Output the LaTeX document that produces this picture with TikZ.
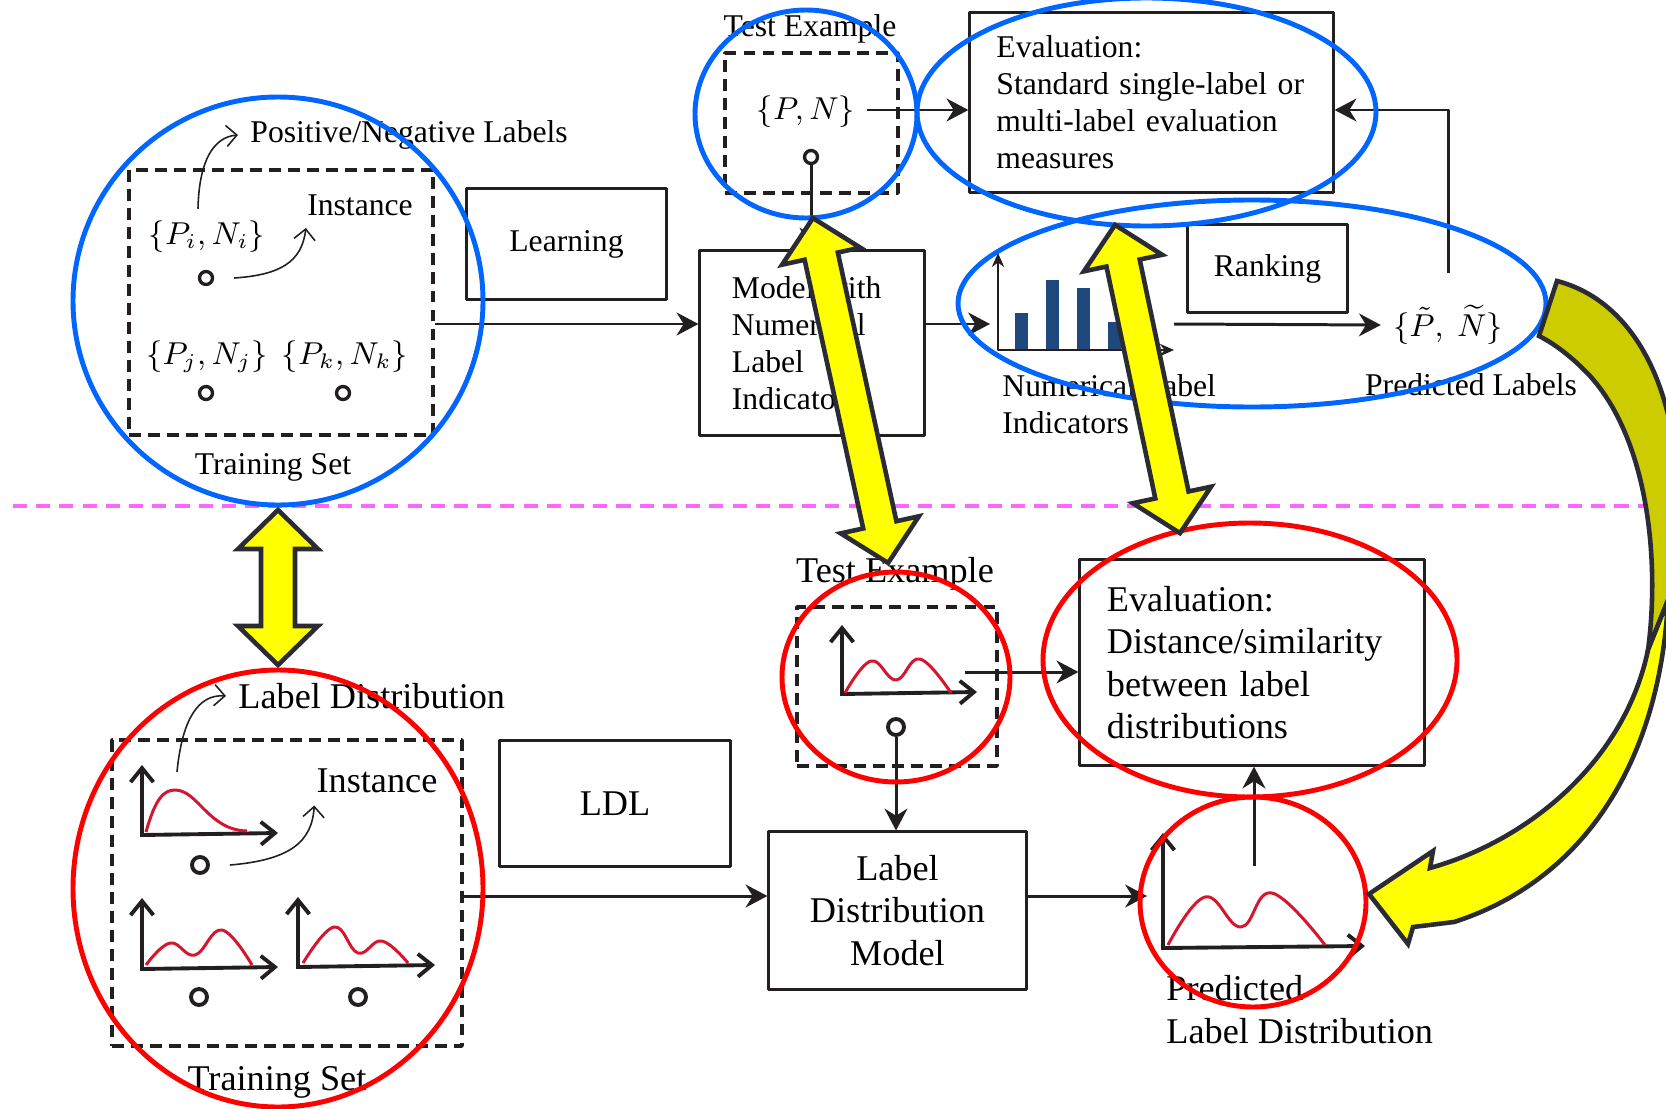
\documentclass[tikz,border=0pt]{standalone}
\usepackage{fontspec}
\setmainfont{Liberation Serif}
\usetikzlibrary{arrows.meta,calc}
\definecolor{ink}{RGB}{35,31,32}
\definecolor{ringblue}{RGB}{0,102,255}
\definecolor{ringred}{RGB}{255,0,0}
\definecolor{curvered}{RGB}{214,22,46}
\definecolor{barblue}{RGB}{31,73,125}
\definecolor{hlyellow}{RGB}{255,255,0}
\definecolor{hlolive}{RGB}{204,204,0}
\definecolor{hledge}{RGB}{43,43,54}
\definecolor{sepmag}{RGB}{255,102,255}
% yellow double arrow: centre, angle, half length
\newcommand{\hlarrow}[3]{%
	\begin{scope}[shift={#1},rotate=#2]
	\filldraw[hlfill] (-#3,0)--({-#3+39},40)--({-#3+39},17)--({#3-39},17)--({#3-39},40)--(#3,0)--({#3-39},-40)--({#3-39},-17)--({-#3+39},-17)--({-#3+39},-40)--cycle;
	\end{scope}}
\begin{document}
\begin{tikzpicture}[x=0.01cm, y=-0.01cm, line join=round, font=\fontsize{9}{10.5}\selectfont,
	box/.style={draw=ink, line width=0.85pt},
	dbox/.style={draw=ink, line width=0.95pt, dash pattern=on 3.4pt off 2pt},
	flow/.style={draw=ink, line width=0.85pt, -{Stealth[length=6.2pt,width=6.5pt,inset=2pt]}},
	hint/.style={draw=ink, line width=0.45pt, -{Straight Barb[length=3pt,width=6pt]}},
	ax/.style={draw=ink, line width=1.1pt, line join=miter, {Straight Barb[length=4pt,width=6.5pt]}-{Straight Barb[length=4pt,width=6.5pt]}},
	dcurve/.style={draw=curvered, line width=0.85pt},
	inst/.style={circle, draw=ink, line width=0.95pt, minimum size=0.13cm, inner sep=0pt},
	instB/.style={circle, draw=ink, line width=1.1pt, minimum size=0.16cm, inner sep=0pt},
	fbot/.style={font=\fontsize{10.3}{12.1}\selectfont},
	ring/.style={line width=1.4pt},
	hlfill/.style={fill=hlyellow, draw=hledge, line width=1.3pt, line join=miter}]
	\useasboundingbox (0,0) rectangle (1666,1109);
	% upper half
	\node[dbox, minimum width=3.04cm, minimum height=2.65cm] (trainA) at (281,302.5) {};
	\node (pniA) at (207,237) {$\{P_i, N_i\}$};
	\node[inst] (iA) at (206,278) {};
	\node (pnjA) at (207,357) {$\{P_j, N_j\}$};
	\node[inst] (jA) at (206,393) {};
	\node (pnkA) at (345,357) {$\{P_k, N_k\}$};
	\node[inst] (kA) at (343,393) {};
	\node[anchor=west] (plabA) at (238,135) {Positive/Negative Labels};
	\node (instA) at (360,205) {Instance};
	\node (tsA) at (273,467) {Training Set};
	\draw[hint] ([xshift=-0.09cm]pniA.north) .. controls (199,160) and (214,137) .. (plabA.west);
	\draw[hint] ([xshift=0.2cm]iA.east) .. controls (280,275) and (302,262) .. ([xshift=0.11cm]instA.south west);
	\node[box, minimum width=1.99cm, minimum height=1.10cm] (learn) at (566.5,244) {Learning};
	\node[box, align=left, text width=1.6cm, inner xsep=0.32cm, minimum height=1.84cm] (model) at (812,343) {Model with\\Numerical\\Label\\Indicators};
	\coordinate (rowA) at (0,324);
	\draw[flow] (trainA.east |- rowA) -- (model.west |- rowA);
	\node[dbox, minimum width=1.73cm, minimum height=1.40cm] (testA) at (811.5,123) {};
	\node (teA) at (810,29) {Test Example};
	\node (pnA) at (806,112) {$\{P, N\}$};
	\node[inst] (tA) at (811,157) {};
	\draw[flow] (tA.south) -- (tA.south |- model.north);
	\node[box, align=left, text width=3.1cm, inner xsep=0.265cm, minimum height=1.79cm] (evalA) at (1151.5,102.5) {Evaluation:\\Standard single-label or\\multi-label evaluation\\measures};
	\coordinate (rowE) at (0,110);
	\draw[flow] (pnA.east |- rowE) -- (evalA.west |- rowE);
	\foreach \bx/\by in {1015/313,1046/280,1077/288,1108/322}
		\fill[barblue] (\bx,\by) rectangle ({\bx+13},350);
	\coordinate (orgA) at (998,350);
	\draw[draw=ink, line width=0.6pt, {Stealth[length=4pt,width=3.5pt]}-{Stealth[length=4pt,width=3.5pt]}] (998,253) -- (orgA) -- (1174,350);
	\coordinate (chartL) at (990,324);
	\draw[flow] (model.east |- rowA) -- (chartL);
	\node[align=left, anchor=west] (numA) at (990,404) {Numerical Label\\Indicators};
	\node[box, minimum width=1.59cm, minimum height=0.87cm] (rank) at (1267.5,268.5) {Ranking};
	\node (ptn) at (1448,325) {$\{\tilde{P},\ \widetilde{N}\}$};
	\coordinate (chartR) at (1174,324);
	\draw[flow] (chartR) -- (ptn.west);
	\node (plA) at (1471,385) {Predicted Labels};
	\draw[flow] ([yshift=0.2cm]ptn.north) |- (evalA.east |- rowE);
	% lower half
	\node[dbox, minimum width=3.50cm, minimum height=3.06cm] (trainB) at (287,893) {};
	\draw[ax] (142,765) -- (142,835) -- (278,833);
	\draw[dcurve] (146,832) .. controls (155,800) and (163,790) .. (175,790) .. controls (198,790) and (208,830) .. (247,831);
	\draw[ax] (142,898) -- (142,969) -- (278,967);
	\draw[dcurve] plot[smooth, tension=0.7] coordinates {(146,965) (170,943) (195,955) (222,930) (252,965)};
	\draw[ax] (298,897) -- (298,967) -- (435,965);
	\draw[dcurve] plot[smooth, tension=0.7] coordinates {(303,963) (334,927) (358,953) (382,941) (408,963)};
	\node[instB] (iB) at (200,865) {};
	\node[instB] (jB) at (199,997) {};
	\node[instB] (kB) at (358,997) {};
	\node[fbot, anchor=west] (ldB) at (226,696) {Label Distribution};
	\node[fbot] (instB) at (377,781) {Instance};
	\node[fbot] (tsB) at (277,1082) {Training Set};
	\coordinate (pk1) at (177,772);
	\draw[hint] (pk1) .. controls (182,720) and (198,694) .. (ldB.west);
	\draw[hint] ([xshift=0.2cm]iB.east) .. controls (290,860) and (312,842) .. ([xshift=0.1cm]instB.south west);
	\node[box, fbot, minimum width=2.30cm, minimum height=1.25cm] (ldl) at (615,803.5) {LDL};
	\node[box, fbot, align=center, minimum width=2.57cm, minimum height=1.57cm] (ldm) at (897.5,910.5) {Label\\Distribution\\Model};
	\coordinate (rowB) at (0,896);
	\draw[flow] (trainB.east |- rowB) -- (ldm.west |- rowB);
	\node[dbox, minimum width=2.00cm, minimum height=1.59cm] (testB) at (897,686.5) {};
	\node[fbot] (teB) at (895,574) {Test Example};
	\draw[ax] (842,625) -- (842,694) -- (977,692);
	\draw[dcurve] plot[smooth, tension=0.7] coordinates {(845,693) (871,661) (896,680) (920,659) (951,693)};
	\node[instB] (tB) at (896,727) {};
	\draw[flow] (tB.south) -- (tB.south |- ldm.north);
	\node[box, fbot, align=left, text width=2.9cm, inner xsep=0.27cm, minimum height=2.05cm] (evalB) at (1252,662.5) {Evaluation:\\Distance/similarity\\between label\\distributions};
	\coordinate (tchR) at (965,672);
	\draw[flow] (tchR) -- (evalB.west |- tchR);
	\draw[ax] (1163,833) -- (1163,948) -- (1365,946);
	\draw[dcurve] plot[smooth, tension=0.7] coordinates {(1168,945) (1205,897) (1241,927) (1272,893) (1325,945)};
	\coordinate (pchL) at (1147,896);
	\draw[flow] (ldm.east |- rowB) -- (pchL);
	\coordinate (pchT) at (1254,866);
	\draw[flow] (pchT) -- (pchT |- evalB.south);
	\node[fbot, align=left, anchor=west] (pldB) at (1154,1009.5) {Predicted\\Label Distribution};
	% separator and highlights
	\draw[sepmag, line width=1.15pt, dash pattern=on 4pt off 2.6pt] (13,506) -- (1666,506);
	\draw[ringblue, ring] (278,301) ellipse [x radius=205, y radius=204];
	\draw[ringblue, ring] (806,114) ellipse [x radius=111, y radius=104];
	\draw[ringblue, ring] (1146.5,112) ellipse [x radius=229.5, y radius=114];
	\draw[ringblue, ring] (1252,303.5) ellipse [x radius=294, y radius=103.5];
	\draw[ringred, ring] (278,888.5) ellipse [x radius=205, y radius=218.5];
	\draw[ringred, ring] (896,677) ellipse [x radius=114, y radius=105];
	\draw[ringred, ring] (1250,660) ellipse [x radius=207, y radius=137];
	\draw[ringred, ring] (1253,902) ellipse [x radius=113, y radius=105];
	\hlarrow{(850.5,390.5)}{-77.7}{176.5}
	\hlarrow{(1147.5,379)}{-78.1}{157.5}
	\hlarrow{(278,587.5)}{-90}{77.5}
	\begin{scope}
	\clip (0,0) rectangle (1666,1109);
	\filldraw[hlfill, fill=hlolive] (1557,281) .. controls (1650,305) and (1700,430) .. (1668,600) -- (1648,650) .. controls (1660,560) and (1648,440) .. (1590,376) .. controls (1575,360) and (1557,345) .. (1539,336) -- cycle;
	\filldraw[hlfill] (1668,600) .. controls (1660,760) and (1585,880) .. (1454,922) -- (1413,927) -- (1408,944) -- (1369,894) -- (1433,851) -- (1430,868) .. controls (1530,840) and (1625,760) .. (1648,650) -- cycle;
	\end{scope}
\end{tikzpicture}
\end{document}
